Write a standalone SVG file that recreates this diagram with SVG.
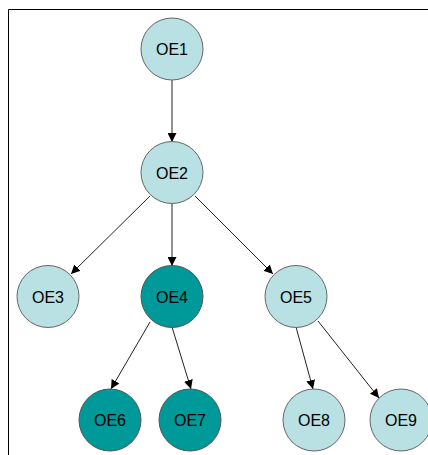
<svg xmlns="http://www.w3.org/2000/svg" width="428" height="455" viewBox="0 0 428 455">
<defs>
<marker id="arr" viewBox="0 0 10 10" refX="10" refY="5" markerWidth="9" markerHeight="9" markerUnits="userSpaceOnUse" orient="auto">
<path d="M0,0 L10,5 L0,10 z" fill="#000"/>
</marker>
<style>
.light{fill:#B9E0E3;stroke:#666;stroke-width:1}
.dark{fill:#009999;stroke:#555;stroke-width:1}
.lbl{font-family:"Liberation Sans",Arial,sans-serif;font-size:16px;fill:#000;text-anchor:middle}
.edge{stroke:#222;stroke-width:1;fill:none;marker-end:url(#arr)}
.frame{stroke:#000;stroke-width:1;fill:none}
</style>
</defs>
<rect width="428" height="455" fill="#fff"/>
<path class="frame" d="M8.5,455 V9.5 H428"/>
<g id="connectors">
<line class="edge" x1="172" y1="80" x2="172" y2="142"/>
<line class="edge" x1="150" y1="196" x2="71" y2="274"/>
<line class="edge" x1="172" y1="203" x2="172" y2="266"/>
<line class="edge" x1="195" y1="196" x2="273" y2="274"/>
<line class="edge" x1="150" y1="322" x2="111" y2="389"/>
<line class="edge" x1="172" y1="327" x2="191" y2="389"/>
<line class="edge" x1="296" y1="327" x2="313" y2="389"/>
<line class="edge" x1="318" y1="321" x2="379" y2="398"/>
</g>
<g id="OE1"><circle class="light" cx="172" cy="49" r="31"/><text class="lbl" x="172" y="55">OE1</text></g>
<g id="OE2"><circle class="light" cx="172" cy="172.5" r="31"/><text class="lbl" x="172" y="178.5">OE2</text></g>
<g id="OE3"><circle class="light" cx="48" cy="296.5" r="31"/><text class="lbl" x="48" y="302.5">OE3</text></g>
<g id="OE4"><circle class="dark" cx="172" cy="296.5" r="31"/><text class="lbl" x="172" y="302.5">OE4</text></g>
<g id="OE5"><circle class="light" cx="296" cy="296.5" r="31"/><text class="lbl" x="296" y="302.5">OE5</text></g>
<g id="OE6"><circle class="dark" cx="110" cy="420" r="31"/><text class="lbl" x="110" y="426">OE6</text></g>
<g id="OE7"><circle class="dark" cx="190" cy="420" r="31"/><text class="lbl" x="190" y="426">OE7</text></g>
<g id="OE8"><circle class="light" cx="314" cy="420" r="31"/><text class="lbl" x="314" y="426">OE8</text></g>
<g id="OE9"><circle class="light" cx="401" cy="420" r="31"/><text class="lbl" x="401" y="426">OE9</text></g>
</svg>
